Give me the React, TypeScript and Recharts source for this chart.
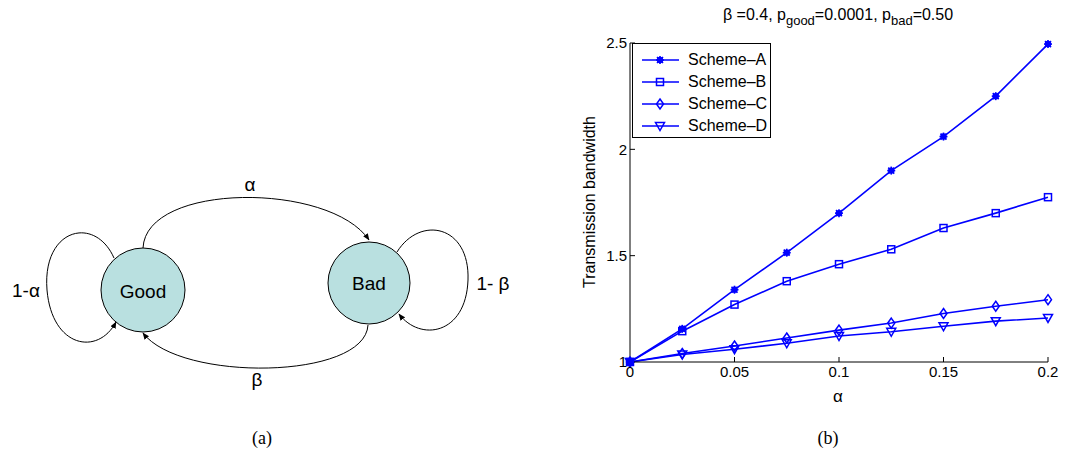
import React from 'react';
import { LineChart, Line, XAxis, YAxis } from 'recharts';

const alphas = [0, 0.025, 0.05, 0.075, 0.1, 0.125, 0.15, 0.175, 0.2];
const schemeA = [1.0, 1.156, 1.34, 1.514, 1.7, 1.9, 2.06, 2.25, 2.495];
const schemeB = [1.0, 1.145, 1.27, 1.38, 1.46, 1.53, 1.63, 1.7, 1.775];
const schemeC = [1.0, 1.04, 1.075, 1.113, 1.15, 1.183, 1.228, 1.262, 1.293];
const schemeD = [1.0, 1.035, 1.06, 1.088, 1.122, 1.142, 1.168, 1.192, 1.207];
const xTicks = [0, 0.05, 0.1, 0.15, 0.2];
const yTicks = [1, 1.5, 2, 2.5];

const seriesNames = ['Scheme–A', 'Scheme–B', 'Scheme–C', 'Scheme–D'];
const seriesKeys = ['a', 'b', 'c', 'd'];
const markers = ['star', 'square', 'diamond', 'triangle'];

const data = alphas.map((alpha, i) => ({
  alpha,
  a: schemeA[i],
  b: schemeB[i],
  c: schemeC[i],
  d: schemeD[i],
}));

const BLUE = '#0000ff';
const FONT = '"Liberation Sans", Arial, sans-serif';
const SERIF = '"Liberation Serif", serif';

function Marker({ kind, cx, cy }: { kind: string; cx: number; cy: number }) {
  if (kind === 'star') {
    return (
      <g stroke={BLUE} strokeWidth={1.6}>
        <line x1={cx - 4} y1={cy} x2={cx + 4} y2={cy} />
        <line x1={cx} y1={cy - 4} x2={cx} y2={cy + 4} />
        <line x1={cx - 3} y1={cy - 3} x2={cx + 3} y2={cy + 3} />
        <line x1={cx - 3} y1={cy + 3} x2={cx + 3} y2={cy - 3} />
        <circle cx={cx} cy={cy} r={2.4} fill={BLUE} />
      </g>
    );
  }
  if (kind === 'square') {
    return <rect x={cx - 3.5} y={cy - 3.5} width={7} height={7} fill="none" stroke={BLUE} strokeWidth={1.5} />;
  }
  if (kind === 'diamond') {
    return (
      <path
        d={`M${cx},${cy - 5} L${cx + 3.5},${cy} L${cx},${cy + 5} L${cx - 3.5},${cy} Z`}
        fill="none"
        stroke={BLUE}
        strokeWidth={1.5}
      />
    );
  }
  return (
    <path
      d={`M${cx - 4.5},${cy - 3.5} L${cx + 4.5},${cy - 3.5} L${cx},${cy + 4.5} Z`}
      fill="none"
      stroke={BLUE}
      strokeWidth={1.5}
    />
  );
}

const makeDot = (kind: string) => (props: any) => (
  <Marker key={`${kind}-${props.index}`} kind={kind} cx={props.cx} cy={props.cy} />
);

function LegendBox() {
  return (
    <div
      style={{
        position: 'absolute',
        left: 92,
        top: 43,
        border: '1px solid #000',
        background: '#fff',
        width: 139,
        height: 95,
        boxSizing: 'border-box',
        paddingTop: 5,
        fontFamily: FONT,
        fontSize: 16,
        lineHeight: '22px',
      }}
    >
      {seriesNames.map((name, i) => (
        <div key={name} style={{ display: 'flex', alignItems: 'center', height: 22 }}>
          <svg width={46} height={14} style={{ marginLeft: 9, flex: 'none' }}>
            <line x1={0} y1={7} x2={37} y2={7} stroke={BLUE} strokeWidth={1.6} />
            <Marker kind={markers[i]} cx={18} cy={7} />
          </svg>
          <span>{name}</span>
        </div>
      ))}
    </div>
  );
}

function StateDiagram() {
  const line = { fill: 'none', stroke: '#000', strokeWidth: 1 };
  return (
    <svg width={540} height={455} style={{ position: 'absolute', left: 0, top: 0 }}>
      <defs>
        <marker id="arr" viewBox="0 0 10 10" refX={9} refY={5} markerWidth={7} markerHeight={7} orient="auto">
          <path d="M0,1 L10,5 L0,9 Z" fill="#000" />
        </marker>
      </defs>
      <path d="M143,248 C146,182 330,182 369,240" {...line} markerEnd="url(#arr)" />
      <path d="M368,325 C365,380 180,382 143,333" {...line} markerEnd="url(#arr)" />
      <path d="M114,258 C95,215 42,228 47,290 C52,348 98,356 116,322" {...line} markerEnd="url(#arr)" />
      <path d="M397,252 C420,215 470,225 468,280 C466,335 420,342 399,314" {...line} markerEnd="url(#arr)" />
      <circle cx={143} cy={290} r={42} fill="#b9e0e0" stroke="#000" strokeWidth={1} />
      <circle cx={369} cy={283} r={41} fill="#b9e0e0" stroke="#000" strokeWidth={1} />
      <g fontFamily={FONT} fontSize={19} textAnchor="middle" fill="#000">
        <text x={143} y={298}>Good</text>
        <text x={369} y={290}>Bad</text>
        <text x={250} y={191}>α</text>
        <text x={257} y={386}>β</text>
        <text x={26} y={297}>1-α</text>
        <text x={493} y={290}>1- β</text>
      </g>
      <text x={262} y={444} fontFamily={SERIF} fontSize={18} textAnchor="middle">(a)</text>
    </svg>
  );
}

export default function App() {
  return (
    <div style={{ position: 'absolute', left: 0, top: 0, width: 1067, height: 455, background: '#fff' }}>
      <StateDiagram />
      <div style={{ position: 'absolute', left: 540, top: 0, width: 527, height: 455 }}>
        <LineChart
          width={527}
          height={455}
          data={data}
          margin={{ top: 43, right: 19, bottom: 63, left: 40 }}
        >
          <XAxis
            dataKey="alpha"
            type="number"
            domain={[0, 0.2]}
            ticks={xTicks}
            tickFormatter={(v: number) => String(v)}
            axisLine={{ stroke: '#000' }}
            tickLine={{ stroke: '#000' }}
            tickSize={-5}
            tickMargin={9}
            height={30}
            tick={{ fill: '#000', fontSize: 15, fontFamily: FONT }}
          />
          <XAxis
            xAxisId="top"
            dataKey="alpha"
            orientation="top"
            type="number"
            domain={[0, 0.2]}
            ticks={xTicks}
            axisLine={{ stroke: '#000' }}
            tickLine={{ stroke: '#000' }}
            tickSize={-5}
            tick={false}
            height={0}
          />
          <YAxis
            type="number"
            domain={[1, 2.5]}
            ticks={yTicks}
            axisLine={{ stroke: '#000' }}
            tickLine={{ stroke: '#000' }}
            tickSize={-5}
            tickMargin={8}
            width={50}
            tick={{ fill: '#000', fontSize: 15, fontFamily: FONT }}
          />
          <YAxis
            yAxisId="right"
            orientation="right"
            type="number"
            domain={[1, 2.5]}
            ticks={yTicks}
            axisLine={{ stroke: '#000' }}
            tickLine={{ stroke: '#000' }}
            tickSize={-5}
            tick={false}
            width={0}
          />
          {seriesKeys.map((k, i) => (
            <Line
              key={k}
              dataKey={k}
              name={seriesNames[i]}
              stroke={BLUE}
              strokeWidth={1.6}
              dot={makeDot(markers[i])}
              isAnimationActive={false}
            />
          ))}
        </LineChart>
        <LegendBox />
        <svg width={527} height={455} style={{ position: 'absolute', left: 0, top: 0, pointerEvents: 'none' }}>
          <g fontFamily={FONT} fill="#000">
            <text x={298} y={20} fontSize={16} textAnchor="middle">
              β =0.4, p<tspan fontSize={13} dy={5}>good</tspan>
              <tspan dy={-5}>=0.0001, p</tspan>
              <tspan fontSize={13} dy={5}>bad</tspan>
              <tspan dy={-5}>=0.50</tspan>
            </text>
            <text x={298} y={402} fontSize={17} textAnchor="middle">α</text>
            <text
              x={55}
              y={202}
              fontSize={16}
              textAnchor="middle"
              transform="rotate(-90 55 202)"
            >
              Transmission bandwidth
            </text>
          </g>
          <text x={288} y={444} fontFamily={SERIF} fontSize={18} textAnchor="middle">(b)</text>
        </svg>
      </div>
    </div>
  );
}
